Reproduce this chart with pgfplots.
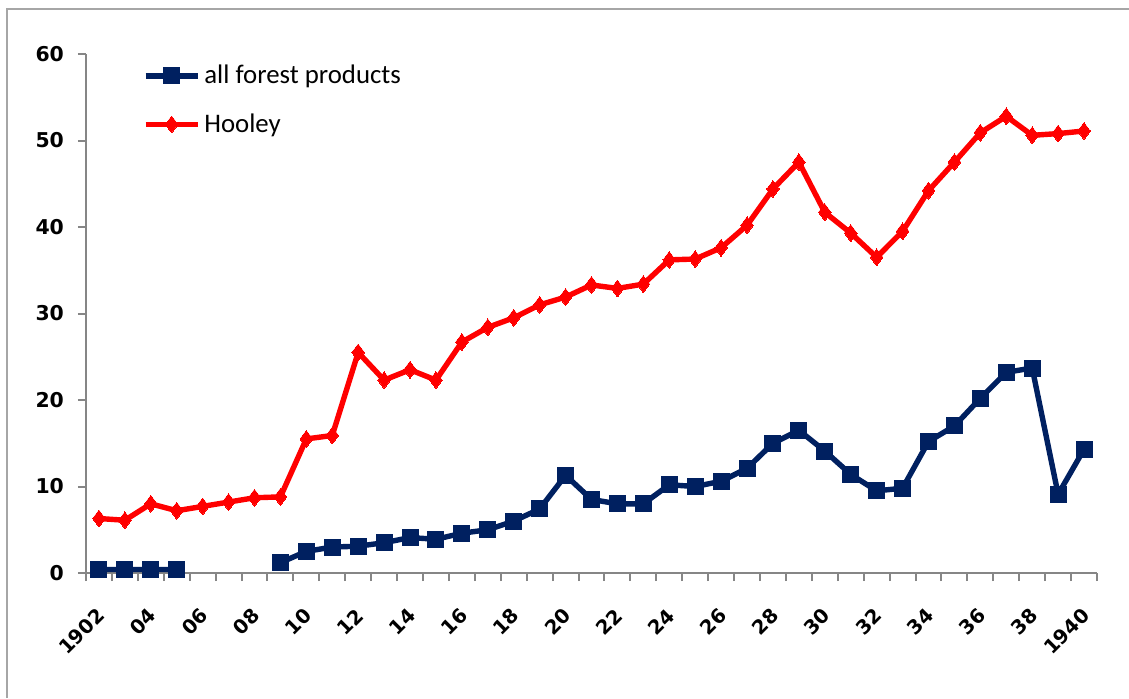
\documentclass[border=0pt]{standalone}
\usepackage{pgfplots}
\pgfplotsset{compat=1.18}
\usepackage{pgfplotstable}
\usepackage{fontspec}
\setmainfont{Carlito}
\newfontfamily\tickfont{DejaVu Sans}
\definecolor{navy}{HTML}{002060}
\definecolor{axgray}{HTML}{868686}
\definecolor{framegray}{HTML}{A6A6A6}
\pgfplotstableread{
idx forest hooley
0 0.4 6.3
1 0.4 6.1
2 0.4 8.0
3 0.4 7.2
4 nan 7.7
5 nan 8.2
6 nan 8.7
7 1.2 8.8
8 2.5 15.5
9 3.0 15.9
10 3.1 25.5
11 3.5 22.3
12 4.1 23.5
13 3.9 22.3
14 4.6 26.7
15 5.0 28.4
16 6.0 29.5
17 7.4 31.0
18 11.3 31.9
19 8.5 33.3
20 8.0 32.9
21 8.0 33.4
22 10.2 36.2
23 10.0 36.3
24 10.6 37.6
25 12.1 40.2
26 15.0 44.4
27 16.5 47.5
28 14.1 41.7
29 11.4 39.3
30 9.5 36.5
31 9.8 39.5
32 15.2 44.2
33 17.0 47.5
34 20.2 50.9
35 23.2 52.8
36 23.7 50.6
37 9.1 50.8
38 14.3 51.1
}\datatable
\begin{document}
\begin{tikzpicture}[x=1pt,y=1pt]
\useasboundingbox (0,0) rectangle (564.5,349);
\draw[framegray, line width=1pt] (3.5,0) -- (3.5,344.5) -- (564.5,344.5);
\begin{axis}[
  at={(43pt,62.5pt)}, anchor=south west,
  scale only axis, width=505.5pt, height=259.5pt,
  xmin=-0.5, xmax=38.5, ymin=0, ymax=60,
  axis lines=left,
  axis line style={-, axgray, line width=1pt},
  tick align=outside,
  major tick length=4pt,
  tick style={axgray, line width=1pt},
  ytick={0,10,...,60},
  xtick={-0.5,0.5,...,38.5},
  xticklabels={},
  extra x ticks={0,2,...,38},
  extra x tick labels={1902,04,06,08,10,12,14,16,18,20,22,24,26,28,30,32,34,36,38,1940},
  extra x tick style={tick style={draw=none}, tick label style={font=\tickfont\bfseries\fontsize{9.8}{12}\selectfont, xshift=1pt, yshift=-15.5pt, rotate=45, anchor=east, inner sep=0pt}},
  /pgf/number format/assume math mode=true,
  tick label style={font=\tickfont\bfseries\fontsize{10.2}{12}\selectfont, black},
  yticklabel style={xshift=-3.5pt},
  unbounded coords=jump,
  legend style={at={(0.05,0.995)}, anchor=north west, draw=none, fill=none,
    font=\fontsize{13.4}{15}\selectfont, row sep=9.5pt},
  legend cell align=left,
  legend image code/.code={\draw[mark repeat=2,mark phase=2] plot coordinates {(0pt,0pt) (13pt,0pt) (26pt,0pt)};},
]
\addplot[navy, line width=2.7pt, mark=square*, mark size=4pt, mark options={solid, fill=navy, line width=0pt}] table[x=idx, y=forest] {\datatable};
\addlegendentry{all forest products}
\addplot[red, line width=2.7pt, mark=diamond*, mark size=4.2pt, mark options={solid, fill=red, line width=0pt}] table[x=idx, y=hooley] {\datatable};
\addlegendentry{Hooley}
\end{axis}
\end{tikzpicture}
\end{document}
